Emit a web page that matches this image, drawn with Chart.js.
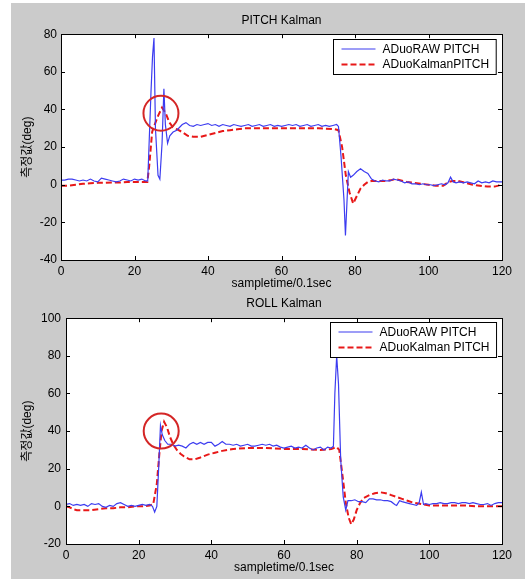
<!DOCTYPE html>
<html>
<head>
<meta charset="utf-8">
<script src="https://cdn.jsdelivr.net/npm/chart.js@4.4.0/dist/chart.umd.min.js"></script>
<style>
  body { margin: 0; background: #fff; width: 525px; height: 579px; overflow: hidden; }
  #frame { position: absolute; left: 11px; top: 3px; width: 514px; height: 576px; background: #cbcbcb; }
  #pitchChart { position: absolute; left: 0; top: 0; }
  #rollChart { position: absolute; left: 0; top: 290px; }
</style>
</head>
<body>
<div id="frame"></div>
<canvas id="pitchChart" width="525" height="295"></canvas>
<canvas id="rollChart" width="525" height="289"></canvas>
<script>
    // PITCH - 원시 측정값 (시간, 값)
    const pitchRawT = [0,1,2,3,4,5,6,7,8,9,10,11,12,13,14,15,16,17,18,19,20,21,22,23,23.6,24.5,24.9,25.3,25.7,26.4,26.9,27.5,28,28.4,29,29.6,30.5,31.5,33,34,35,36,37,38,39,40,41,42,43,44,45,46,47,48,49,50,51,52,53,54,55,56,57,58,59,60,61,62,63,64,65,66,67,68,69,70,71,72,73,74,75,75.5,76.2,77,77.4,77.8,78.2,78.8,79.5,80.5,81.5,82.5,83.5,84.5,85.5,86.5,87.5,88.5,89.5,90.5,91.5,92.5,93.5,94.5,95.5,96.5,97.5,98.5,99.5,100.5,101.5,102.5,103.5,104.5,105.3,106,106.7,107.5,108.5,109.5,110.5,111.5,112.5,113.5,114.5,115.5,116.5,117.5,118.5,119.5,120];
    const pitchRaw = [2.5,2.5,3,3,2.5,2,2.5,2,3,2,1.5,3.5,3,2.5,2,1.5,2,3,2.5,2,3,2.5,3,2,2,50,68,78,30,5,3,22,51,32,22,26,28,29,32,33,31.5,31,32,31.5,32,32.5,31.5,32,31,32,31.5,31,32,31.5,31,31.5,32,31,31.5,32,31,31.5,32,31,31.5,31,31.5,32,31.5,32,31,31.5,32,31,31.5,32,31,31.5,31,31.5,32,31,15,-8,-27,-10,7,4,5,7,8.5,7,6,3,2,1.5,2.5,2,2,3,2.5,2,1,1.5,0.5,0.5,0,0.5,0,0,-0.5,0,0.5,0,1,4,1.5,1,1.5,1,1.5,1,0.5,2,1,1.5,1,2,1.5,1.5,1.5];

    // PITCH - 칼만 필터 출력
    const pitchKalT = [0,2,4,6,8,10,12,14,16,18,20,22,23.5,24,24.8,25.5,26.5,27.5,28.5,29.5,30.5,31.5,33,34.5,36,38,40,42,44,46,48,50,55,60,65,70,74.5,75.5,76.5,77.5,78.5,79.5,80.5,81.5,82.5,83.5,84.5,86,88,90,91,92,94,96,98,100,102,104,105.5,106.5,108,110,112,114,116,118,119,120];
    const pitchKal = [-0.5,-0.5,0,0.5,0.8,1,1,1.2,1.2,1.5,1.5,1.5,1.5,10,28,32,37,41,38,33,30.5,29.5,28,26,25.5,25.5,26.5,27.5,28.5,29,29.5,30,30,30,30,30,29.5,29,20,5,-4,-10,-6,-2,0,1.5,2,2,2,2.5,3,2.5,1.5,1,0.5,0,-0.5,-0.5,1.5,2,2,1,0,-0.5,-1,-1,-0.5,0.5];

    // ROLL - 원시 측정값
    const rollRawT = [0,1,2,3,4,5,6,7,8,9,10,11,12,13,14,15,16,17,18,19,20,21,22,23,23.8,24.4,25,25.5,26,26.5,27.2,28,29,30,31,32,33,34,35,36,37,38,39,40,41,42,43,44,45,46,47,48,49,50,51,52,53,54,55,56,57,58,59,60,61,62,63,64,65,66,67,68,69,70,71,72,73,73.6,74,74.5,75,75.6,76.3,77,77.6,78.5,79.5,80.5,81.5,82.5,83.5,84.5,85.5,86.5,87.5,88.5,89.5,90.5,91,91.8,92.5,93.5,94.5,95.5,96.5,97.2,97.8,98.4,99,100,101,102,103,104,105,106,107,108,109,110,111,112,113,114,115,116,117,118,119,120];
    const rollRaw = [1,1.5,0.5,1,0.5,1,0,1.5,1,1.5,0,-0.5,0.5,0,1.5,2,1,0,0.5,0,0.5,1,0.5,1,0,-3,0,20,43,38,35,33,33,32,32.5,32,31,33,34,33,34,33,34,34,32,33,34.5,33,33,32.5,33,32,32.5,33,32,32,32.5,33,32.5,33,32,32.5,31.5,31,31.5,32,31,31.5,31,32.5,31,30,31,31.5,30,31.5,31,32,60,80,65,25,5,-2,3,3,3.5,2.5,2.5,2,4,4,3.5,3.5,3,3,2.5,1,0.5,3,2.5,2,1.5,1,0.5,2,7.5,1,1.5,1,1.5,1.5,2,1.5,1.5,2,2,1.5,2,2,1.5,2,1.5,1,1,1.5,0.5,1.5,2,2];

    // ROLL - 칼만 필터 출력
    const rollKalT = [0,1,2,3,5,7,9,11,13,15,17,19,21,23,24,25,25.7,26.3,27,27.8,28.6,29.5,30.5,31.5,32.5,34,35.5,37,39,41,43,46,50,55,60,65,70,73,74.5,75.2,76,77,77.8,78.5,79.2,80,81,82,83.5,85,86.5,88,89.5,91,92.5,94,95.5,97,98.5,100,103,106,110,113,116,120];
    const rollKal = [0,-0.5,-1.5,-2,-2,-2,-1.5,-1,-1,-0.5,-0.5,0,0,0.5,1,12,28,40,45,42,37,33,30,28,26.5,25,25,26,27.5,28.5,29.5,30.5,31,31,30.5,30.5,30,30.5,31.5,30,18,2,-6,-9.5,-7,-2,2,4.5,6,7,7.5,7,6,5,4,3,2,1.5,1,0.5,0.5,0.5,0.5,0,0,0];

    // 강조 원 위치 (데이터 좌표)
    const pitchMark = { x: 27.2, y: 38 };
    const rollMark = { x: 26.2, y: 40 };

    const xTicksStep = 20;

    const FONT = 'Arial, "Liberation Sans", "Noto Sans CJK KR", sans-serif';
    const toPoints = (ts, vs) => ts.map((t, i) => ({ x: t, y: vs[i] }));

    // 흰색 축 배경, 축 박스와 안쪽 눈금, 범례, 원 표시
    const matlabAxes = {
        id: 'matlabAxes',
        beforeDatasetsDraw(chart) {
            const { ctx, chartArea: a } = chart;
            ctx.save();
            ctx.fillStyle = '#fff';
            ctx.fillRect(a.left, a.top, a.width, a.height);
            ctx.restore();
        },
        afterDatasetsDraw(chart, args, opts) {
            const { ctx, chartArea: a, scales } = chart;
            ctx.save();
            // 원
            if (opts.mark) {
                ctx.strokeStyle = '#d42626';
                ctx.lineWidth = 2;
                ctx.beginPath();
                ctx.arc(scales.x.getPixelForValue(opts.mark.x), scales.y.getPixelForValue(opts.mark.y), 17.5, 0, Math.PI * 2);
                ctx.stroke();
            }
            // 박스
            ctx.strokeStyle = '#000';
            ctx.lineWidth = 1;
            ctx.strokeRect(Math.round(a.left) + 0.5, Math.round(a.top) + 0.5, Math.round(a.width), Math.round(a.height));
            ctx.beginPath();
            scales.x.ticks.forEach(t => {
                const px = Math.round(scales.x.getPixelForValue(t.value)) + 0.5;
                ctx.moveTo(px, a.bottom); ctx.lineTo(px, a.bottom - 4);
                ctx.moveTo(px, a.top); ctx.lineTo(px, a.top + 4);
            });
            scales.y.ticks.forEach(t => {
                const py = Math.round(scales.y.getPixelForValue(t.value)) + 0.5;
                ctx.moveTo(a.left, py); ctx.lineTo(a.left + 4, py);
                ctx.moveTo(a.right, py); ctx.lineTo(a.right - 4, py);
            });
            ctx.stroke();

            // 범례
            ctx.font = '12px ' + FONT;
            const sets = chart.data.datasets;
            const textW = Math.max(...sets.map(d => ctx.measureText(d.label).width));
            const w = 49 + textW + 7, h = 35;
            const bx = Math.round(a.right - 6 - w) + 0.5, by = Math.round(a.top + opts.legendTop) + 0.5;
            ctx.fillStyle = '#fff';
            ctx.fillRect(bx, by, w, h);
            ctx.strokeStyle = '#000';
            ctx.strokeRect(bx, by, w, h);
            sets.forEach((d, i) => {
                const ly = by + 9.5 + i * 15.6;
                ctx.strokeStyle = d.borderColor;
                ctx.lineWidth = d.borderWidth;
                ctx.setLineDash(d.borderDash || []);
                ctx.beginPath();
                ctx.moveTo(bx + 8, ly); ctx.lineTo(bx + 42, ly);
                ctx.stroke();
                ctx.setLineDash([]);
                ctx.fillStyle = '#000';
                ctx.textBaseline = 'middle';
                ctx.fillText(d.label, bx + 49, ly + 0.5);
            });
            ctx.restore();
        }
    };

    function makeChart(canvasId, cfg) {
        return new Chart(document.getElementById(canvasId).getContext('2d'), {
            type: 'line',
            data: {
                datasets: [{
                    label: 'ADuoRAW PITCH',
                    data: cfg.raw,
                    borderColor: '#3c3cf0',
                    borderWidth: 1.2,
                    pointRadius: 0,
                    tension: 0
                },
                {
                    label: cfg.kalLabel,
                    data: cfg.kal,
                    borderColor: '#e81818',
                    borderWidth: 2,
                    borderDash: [6, 3],
                    pointRadius: 0,
                    tension: 0
                }]
            },
            options: {
                responsive: false,
                animation: false,
                layout: { padding: { left: 0, right: 23, top: 0, bottom: 0 } },
                plugins: {
                    legend: { display: false },
                    tooltip: { enabled: false },
                    title: {
                        display: true,
                        fullSize: false,
                        text: cfg.title,
                        color: '#000',
                        font: { family: FONT, size: 12, weight: 'normal' },
                        padding: cfg.titlePad
                    },
                    matlabAxes: { mark: cfg.mark, legendTop: cfg.legendTop }
                },
                scales: {
                    x: {
                        type: 'linear',
                        min: 0,
                        max: 120,
                        grid: { display: false, drawTicks: false },
                        border: { display: false },
                        ticks: { stepSize: xTicksStep, color: '#000', padding: 4, maxRotation: 0, font: { family: FONT, size: 12 } },
                        title: {
                            display: true,
                            text: 'sampletime/0.1sec',
                            color: '#000',
                            font: { family: FONT, size: 12 },
                            padding: { top: 0, bottom: 3.8 }
                        },
                        afterFit: s => { s.height = 35; }
                    },
                    y: {
                        min: cfg.yMin,
                        max: cfg.yMax,
                        grid: { display: false, drawTicks: false },
                        border: { display: false },
                        ticks: { stepSize: 20, color: '#000', padding: cfg.yPad, font: { family: FONT, size: 12 } },
                        title: {
                            display: true,
                            text: '측정값(deg)',
                            color: '#000',
                            font: { family: FONT, size: 12 },
                            padding: { top: 20, bottom: 0 }
                        },
                        afterFit: s => { s.width = cfg.yWidth; }
                    }
                }
            },
            plugins: [matlabAxes]
        });
    }

    makeChart('pitchChart', {
        title: 'PITCH Kalman',
        kalLabel: 'ADuoKalmanPITCH',
        raw: toPoints(pitchRawT, pitchRaw),
        kal: toPoints(pitchKalT, pitchKal),
        yMin: -40, yMax: 80,
        yWidth: 61, yPad: 4,
        titlePad: { top: 13.4, bottom: 6.4 },
        mark: pitchMark,
        legendTop: 5
    });

    makeChart('rollChart', {
        title: 'ROLL Kalman',
        kalLabel: 'ADuoKalman PITCH',
        raw: toPoints(rollRawT, rollRaw),
        kal: toPoints(rollKalT, rollKal),
        yMin: -20, yMax: 100,
        yWidth: 66, yPad: 5,
        titlePad: { top: 6.4, bottom: 7.4 },
        mark: rollMark,
        legendTop: 4
    });
</script>
</body>
</html>
